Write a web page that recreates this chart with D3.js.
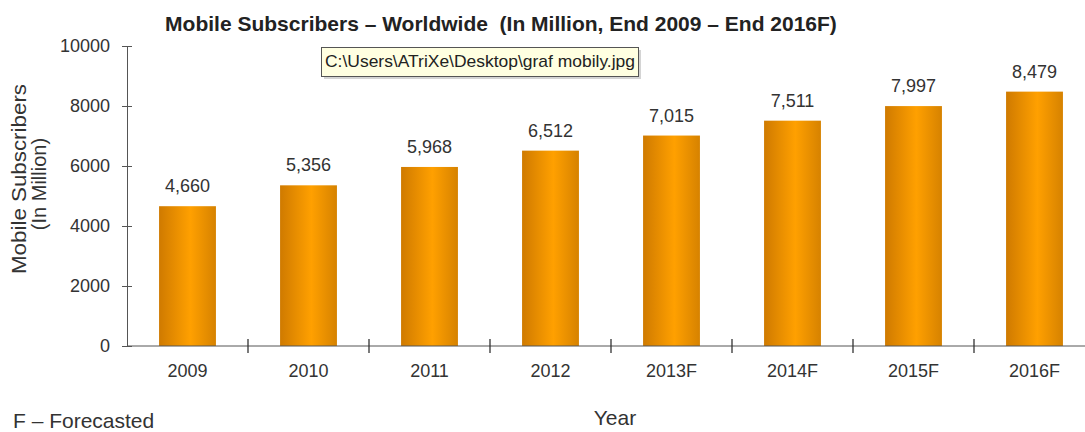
<!DOCTYPE html>
<html>
<head>
<meta charset="utf-8">
<script src="https://d3js.org/d3.v7.min.js"></script>
<style>
  body { margin: 0; background: #fff; }
  svg { display: block; font-family: "Liberation Sans", Arial, sans-serif; }
</style>
</head>
<body>
<svg width="1085" height="432"></svg>
<script>
// data
const years = ['2009', '2010', '2011', '2012', '2013F', '2014F', '2015F', '2016F'];
const subscribers = [4660, 5356, 5968, 6512, 7015, 7511, 7997, 8479];
const yTicks = [0, 2000, 4000, 6000, 8000, 10000];

const svg = d3.select('svg');

const x = d3.scaleBand()
  .domain(years)
  .range([127, 1095])
  .paddingInner(0.53)
  .paddingOuter(0.265);

const y = d3.scaleLinear()
  .domain([0, 10000])
  .range([346, 46]);

// bar gradient
const grad = svg.append('defs').append('linearGradient')
  .attr('id', 'barGrad')
  .attr('x1', '0%').attr('x2', '100%').attr('y1', '0%').attr('y2', '0%');
grad.append('stop').attr('offset', '0%').attr('stop-color', '#cf7a00');
grad.append('stop').attr('offset', '55%').attr('stop-color', '#ffa000');
grad.append('stop').attr('offset', '100%').attr('stop-color', '#d68200');

// title
svg.append('text')
  .attr('x', 501)
  .attr('y', 31)
  .attr('text-anchor', 'middle')
  .attr('xml:space', 'preserve')
  .style('font-size', '21px')
  .style('font-weight', 'bold')
  .style('fill', '#222')
  .text('Mobile Subscribers \u2013 Worldwide  (In Million, End 2009 \u2013 End 2016F)');

// y axis
const yAxis = svg.append('g')
  .attr('transform', 'translate(127,0)')
  .call(d3.axisLeft(y).tickValues(yTicks).tickFormat(d3.format('d')).tickSize(5).tickPadding(12));
yAxis.select('.domain').attr('stroke', '#555');
yAxis.selectAll('.tick line').attr('stroke', '#555').attr('x1', -5).attr('x2', 5);
yAxis.selectAll('.tick text')
  .attr('x', -17)
  .style('font-size', '18px')
  .style('fill', '#333')
  .style('font-family', '"Liberation Sans", Arial, sans-serif');

// bars
svg.append('g')
  .selectAll('rect')
  .data(subscribers)
  .join('rect')
  .attr('x', (d, i) => x(years[i]))
  .attr('y', d => y(d))
  .attr('width', x.bandwidth())
  .attr('height', d => y(0) - y(d))
  .attr('fill', 'url(#barGrad)');

// value labels
svg.append('g')
  .selectAll('text')
  .data(subscribers)
  .join('text')
  .attr('x', (d, i) => x(years[i]) + x.bandwidth() / 2)
  .attr('y', d => y(d) - 14)
  .attr('text-anchor', 'middle')
  .style('font-size', '18px')
  .style('fill', '#333')
  .text(d => d3.format(',')(d));

// x axis line and boundary ticks
svg.append('line')
  .attr('x1', 127).attr('x2', 1085)
  .attr('y1', y(0)).attr('y2', y(0))
  .attr('stroke', '#555');
const gap = x.step() * x.paddingInner() / 2;
svg.append('g')
  .selectAll('line')
  .data(years.slice(1))
  .join('line')
  .attr('x1', d => x(d) - gap)
  .attr('x2', d => x(d) - gap)
  .attr('y1', y(0) - 7)
  .attr('y2', y(0) + 7)
  .attr('stroke', '#333')
  .attr('stroke-width', 1.3);

// x labels
svg.append('g')
  .selectAll('text')
  .data(years)
  .join('text')
  .attr('x', d => x(d) + x.bandwidth() / 2)
  .attr('y', 377)
  .attr('text-anchor', 'middle')
  .style('font-size', '18px')
  .style('fill', '#333')
  .text(d => d);

// axis titles
svg.append('text')
  .attr('x', 615).attr('y', 425)
  .attr('text-anchor', 'middle')
  .style('font-size', '21px')
  .style('fill', '#333')
  .text('Year');

svg.append('text')
  .attr('transform', 'translate(26,179) rotate(-90)')
  .attr('text-anchor', 'middle')
  .attr('textLength', 190).attr('lengthAdjust', 'spacingAndGlyphs')
  .style('font-size', '21px')
  .style('fill', '#333')
  .text('Mobile Subscribers');
svg.append('text')
  .attr('transform', 'translate(46,184) rotate(-90)')
  .attr('text-anchor', 'middle')
  .style('font-size', '20px')
  .style('fill', '#333')
  .text('(In Million)');

svg.append('text')
  .attr('x', 13).attr('y', 428)
  .attr('xml:space', 'preserve')
  .style('font-size', '21px')
  .style('fill', '#333')
  .text('F \u2013 Forecasted');

// tooltip box
const tip = svg.append('g').attr('transform', 'translate(321,47)');
tip.append('rect')
  .attr('x', 3).attr('y', 3).attr('width', 317).attr('height', 29)
  .attr('fill', '#aaa').attr('opacity', 0.5);
tip.append('rect')
  .attr('x', 0.5).attr('y', 0.5).attr('width', 317).attr('height', 29)
  .attr('fill', '#ffffe1').attr('stroke', '#555');
tip.append('text')
  .attr('x', 4).attr('y', 20)
  .attr('textLength', 310).attr('lengthAdjust', 'spacingAndGlyphs')
  .style('font-size', '17px')
  .style('fill', '#222')
  .text('C:\\Users\\ATriXe\\Desktop\\graf mobily.jpg');
</script>
</body>
</html>
